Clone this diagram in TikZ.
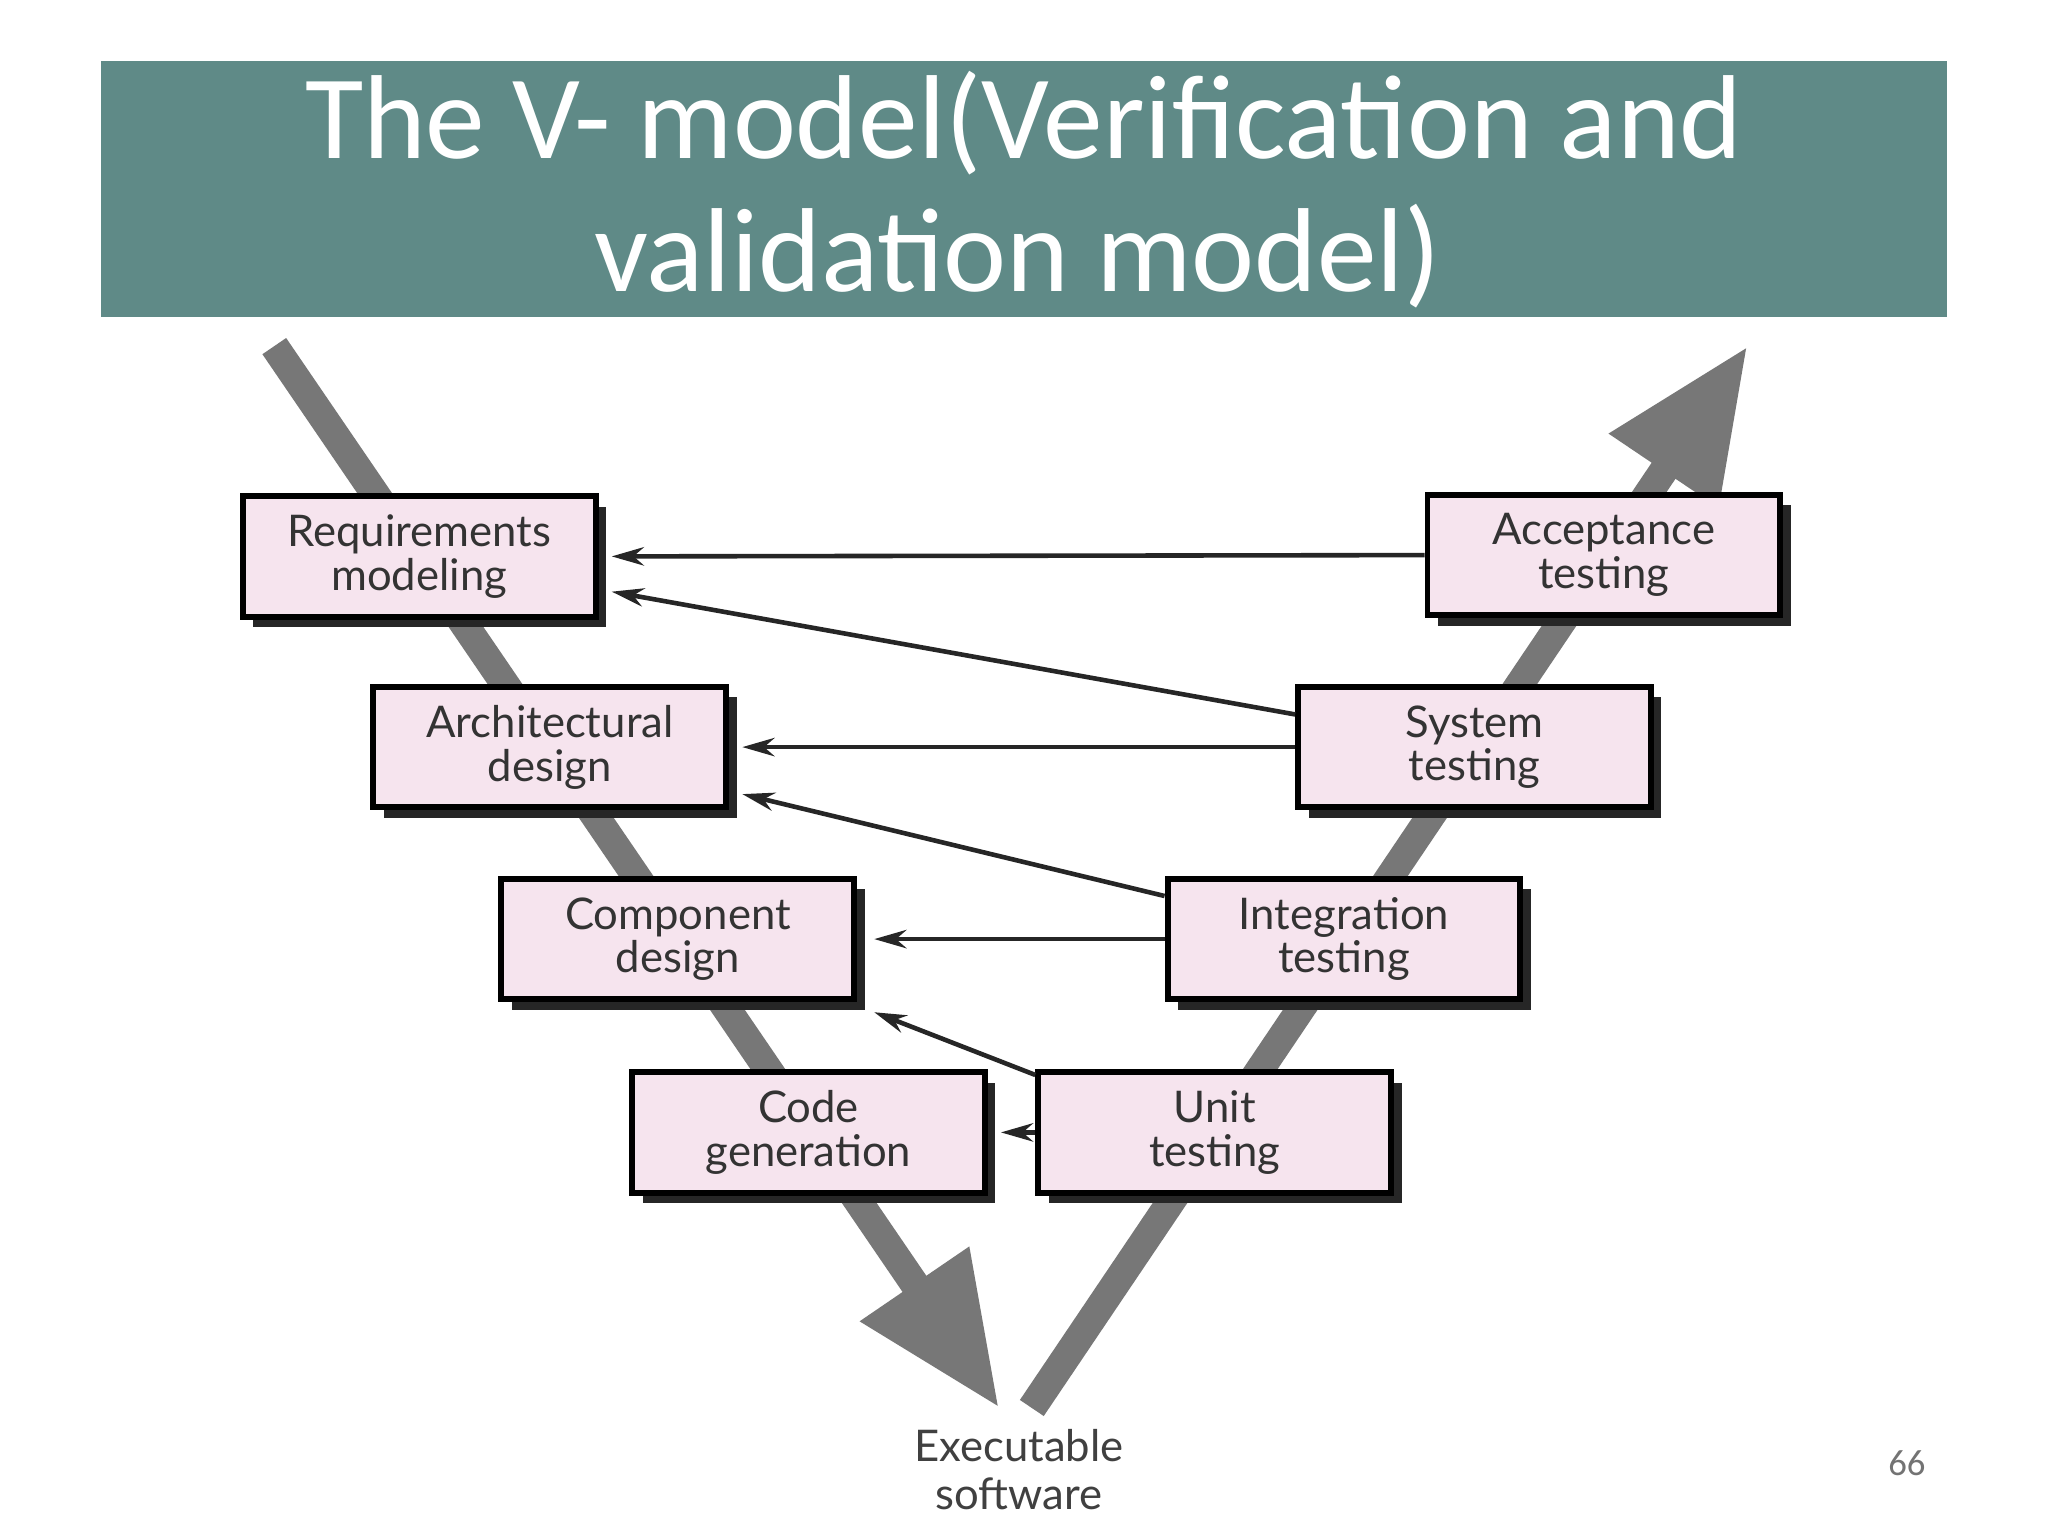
\documentclass[tikz,border=0pt]{standalone}
\usepackage{fontspec}
\setmainfont{Lato}
\newfontfamily\titlefont{Carlito}
\usetikzlibrary{arrows.meta,shadows,calc}
\definecolor{tbar}{HTML}{5F8A87}
\definecolor{boxpink}{HTML}{F6E4EE}
\definecolor{vgrey}{HTML}{777777}
\begin{document}
\begin{tikzpicture}[x=0.01cm,y=-0.01cm,
  box/.style={draw=black,line width=1.3pt,fill=boxpink,minimum width=2.7cm,minimum height=0.92cm,
    align=center,font=\fontsize{9.5}{9.5}\selectfont,text=black!80,inner sep=0pt,
    drop shadow={shadow xshift=0.08cm,shadow yshift=-0.08cm,opacity=1,fill=black!85}},
  vline/.style={draw=vgrey,line width=0.22cm,-{Triangle[length=1.15cm,width=0.95cm]}},
  conn/.style={draw=black!85,line width=1pt,-{Stealth[length=7pt,width=4pt]}}]
\useasboundingbox (0,0) rectangle (1568,1176);
\fill[white] (0,0) rectangle (1568,1176);
\node[fill=tbar,minimum width=14.12cm,minimum height=1.96cm,inner sep=0pt] (title) at (784,145) {};
\node[text=white,font=\titlefont\fontsize{26}{29}\selectfont,align=center] (tt) at (784,145)
  {The V- model(Verification and\\\hspace*{1.1cm}validation model)\hspace*{1.2cm}};
\coordinate (l1) at (210,265); \coordinate (l2) at (765,1078);
\coordinate (r1) at (790,1078); \coordinate (r2) at (1338,265);
\draw[vline] (l1) -- (l2);
\draw[vline] (r1) -- (r2);
\node[box] (req) at (321,426) {Requirements\\modeling};
\node[box] (arch) at (421,572) {Architectural\\design};
\node[box] (comp) at (519,719) {Component\\design};
\node[box] (code) at (619,867) {Code\\generation};
\node[box] (acc) at (1228,425) {Acceptance\\testing};
\node[box] (sys) at (1129,572) {System\\testing};
\node[box] (int) at (1029,719) {Integration\\testing};
\node[box] (unit) at (930,867) {Unit\\testing};
\draw[conn] (acc.west) -- ($(req.east)+(10,0)$);
\draw[conn] ($(sys.west)+(0,-25)$) -- ($(req.east)+(10,27)$);
\draw[conn] (sys.west) -- ($(arch.east)+(10,0)$);
\draw[conn] ($(int.west)+(0,-33)$) -- ($(arch.east)+(10,36)$);
\draw[conn] (int.west) -- ($(comp.east)+(13,0)$);
\draw[conn] ($(unit.west)+(0,-44)$) -- ($(comp.east)+(13,56)$);
\draw[conn] (unit.west) -- ($(code.east)+(10,0)$);
\node[font=\fontsize{9.5}{10.5}\selectfont,text=black!75,align=center] (exe) at (780,1125) {Executable\\software};
\node[font=\titlefont\fontsize{8}{8}\selectfont,text=black!55] (pg) at (1460,1120) {66};
\end{tikzpicture}
\end{document}
